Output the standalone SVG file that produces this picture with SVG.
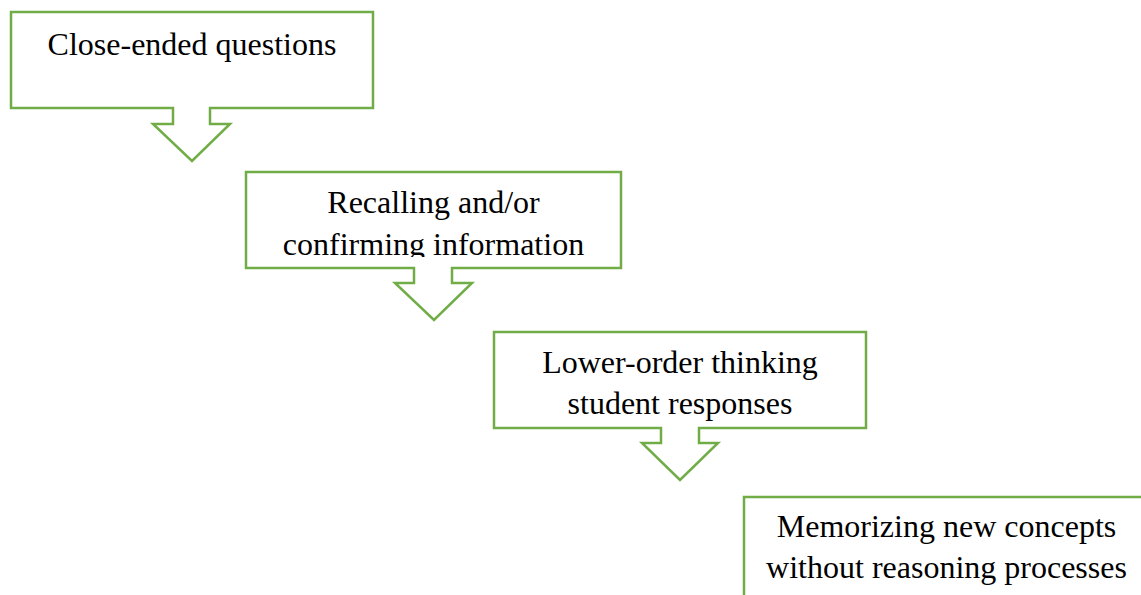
<svg xmlns="http://www.w3.org/2000/svg" width="1141" height="595" viewBox="0 0 1141 595">
<style>
.shape{fill:#ffffff;stroke:#70ad47;stroke-width:2.5;stroke-linejoin:miter}
.lbl{font-family:"Liberation Serif","Times New Roman",serif;font-size:32px;fill:#000000;text-anchor:middle}
</style>
<defs>
<clipPath id="clip2"><rect x="246" y="172" width="375" height="85"/></clipPath>
</defs>
<rect width="1141" height="595" fill="#ffffff"/>
<g id="connectors"></g>
<g id="node1">
<path class="shape" d="M11,12 H373 V108 H210 V124 H230 L192,161 L153,124 H173 V108 H11 Z"/>
<text class="lbl" x="192" y="55">Close-ended questions</text>
</g>
<g id="node2">
<path class="shape" d="M246,172 H621 V268 H452 V283 H472 L434,320 L395,283 H414 V268 H246 Z"/>
<g clip-path="url(#clip2)">
<text class="lbl" x="433.5" y="213">Recalling and/or</text>
<text class="lbl" x="433.5" y="255">confirming information</text>
</g>
</g>
<g id="node3">
<path class="shape" d="M494,332 H866 V428 H699 V443 H718 L680,480 L642,443 H661 V428 H494 Z"/>
<text class="lbl" x="680" y="373">Lower-order thinking</text>
<text class="lbl" x="680" y="414">student responses</text>
</g>
<g id="node4">
<path class="shape" d="M744,497 H1150 V610 H744 Z"/>
<text class="lbl" x="946.5" y="537">Memorizing new concepts</text>
<text class="lbl" x="946.5" y="578">without reasoning processes</text>
</g>
</svg>
